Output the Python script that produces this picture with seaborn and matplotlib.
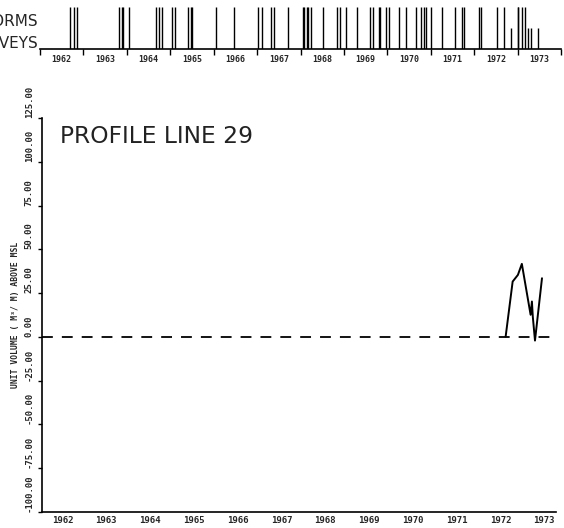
import numpy as np
import pandas as pd
import matplotlib
matplotlib.use('Agg')
import matplotlib.pyplot as plt
import seaborn as sns

# profile line 29 - unit volume above MSL at each survey
survey_year = [1972.59, 1972.75, 1972.87, 1972.96, 1973.16, 1973.19, 1973.21, 1973.26, 1973.42]
unit_volume = [0.2, 31.6, 35.4, 41.7, 12.6, 20.2, 11.6, -2.1, 33.5]

# storm dates (tall bars in the top strip)
storm_dates = [1962.70, 1962.79, 1962.86,
               1963.81, 1963.88, 1963.92, 1964.04,
               1964.68, 1964.73, 1964.82, 1965.05, 1965.12,
               1965.42, 1965.47, 1965.51, 1966.06, 1966.46,
               1967.01, 1967.12, 1967.33, 1967.38, 1967.72,
               1968.05, 1968.09, 1968.14, 1968.18, 1968.25,
               1968.51, 1968.83, 1968.90, 1969.05, 1969.31,
               1969.61, 1969.66, 1969.80, 1969.84, 1969.98, 1970.03,
               1970.26, 1970.44, 1970.65, 1970.77, 1970.84, 1970.88,
               1971.00, 1971.27, 1971.55, 1971.71, 1971.76,
               1972.10, 1972.15, 1972.52, 1972.68,
               1973.00, 1973.02, 1973.11, 1973.16]
# survey dates (short bars in the top strip)
survey_marks = [1972.84, 1973.23, 1973.32, 1973.48]

years = list(range(1962, 1974))
y_ticks = [-100, -75, -50, -25, 0, 25, 50, 75, 100, 125]

sns.set_theme(style='white')
plt.rcParams['font.family'] = ['DejaVu Sans']

tick_font = {'family': 'DejaVu Sans Mono', 'weight': 'bold', 'size': 6.5}

fig = plt.figure(figsize=(5.64, 5.28), dpi=100)
ax = fig.add_axes([42 / 564, 16 / 528, 514 / 564, 394 / 528])
ax_top = fig.add_axes([40 / 564, (528 - 49) / 528, 521 / 564, 42 / 528])

# main profile plot
ax.axhline(0, color='black', lw=1.3, ls=(0, (6, 5)))
sns.lineplot(x=survey_year, y=unit_volume, color='black', lw=1.4,
             estimator=None, sort=False, ax=ax)

ax.set_xlim(1962, 1973.74)
ax.set_ylim(-100, 125)
sns.despine(ax=ax)
for side in ['left', 'bottom']:
    ax.spines[side].set_color('black')
    ax.spines[side].set_linewidth(1.2)

ax.set_xticks(years[1:])
ax.set_xticklabels([])
ax.set_xticks([y + 0.47 for y in years], minor=True)
ax.set_xticklabels([str(y) for y in years], minor=True, fontdict=tick_font)
ax.tick_params(axis='x', which='major', direction='in', length=3, width=1, color='black')
ax.tick_params(axis='x', which='minor', length=0, pad=3)

# y labels run upward from their ticks, like the plotter output
ax.set_yticks(y_ticks)
ax.set_yticklabels(['%.2f' % v for v in y_ticks], fontdict=tick_font,
                   rotation=90, va='bottom')
ax.tick_params(axis='y', direction='out', length=3, width=1, color='black', pad=3, left=True)

ax.set_ylabel('UNIT VOLUME ( M\u00b3/ M) ABOVE MSL', fontdict={
    'family': 'DejaVu Sans Mono', 'weight': 'bold', 'size': 5.8})
ax.yaxis.set_label_coords(-0.043, 0.5)
ax.set_xlabel('')

ax.text(0.035, 0.954, 'PROFILE LINE 29', transform=ax.transAxes,
        fontsize=16.8, va='center', ha='left', color='#222222')

# top strip: storms and surveys
sns.rugplot(x=storm_dates, height=1.0, color='black', lw=1.4, ax=ax_top)
sns.rugplot(x=survey_marks, height=0.5, color='black', lw=1.4, ax=ax_top)
ax_top.set_xlim(1962, 1974)
ax_top.set_ylim(0, 1)
sns.despine(ax=ax_top, left=True)
ax_top.spines['bottom'].set_color('black')
ax_top.spines['bottom'].set_linewidth(1.2)
ax_top.set_yticks([])
ax_top.set_xticks(years + [1974])
ax_top.set_xticklabels([])
ax_top.set_xticks([y + 0.5 for y in years], minor=True)
ax_top.set_xticklabels([str(y) for y in years], minor=True,
                       fontdict={'family': 'DejaVu Sans Mono', 'weight': 'bold', 'size': 6})
ax_top.tick_params(axis='x', which='major', direction='out', length=4, width=1,
                   color='black', bottom=True)
ax_top.tick_params(axis='x', which='minor', length=0, pad=4)
ax_top.set_xlabel('')

# row labels, cut by the left edge as in the scanned original
fig.text(38 / 564, 1 - 22 / 528, 'STORMS', ha='right', va='center', fontsize=11)
fig.text(38 / 564, 1 - 43 / 528, 'SURVEYS', ha='right', va='center', fontsize=11)

fig.savefig('out.png', dpi=100)
